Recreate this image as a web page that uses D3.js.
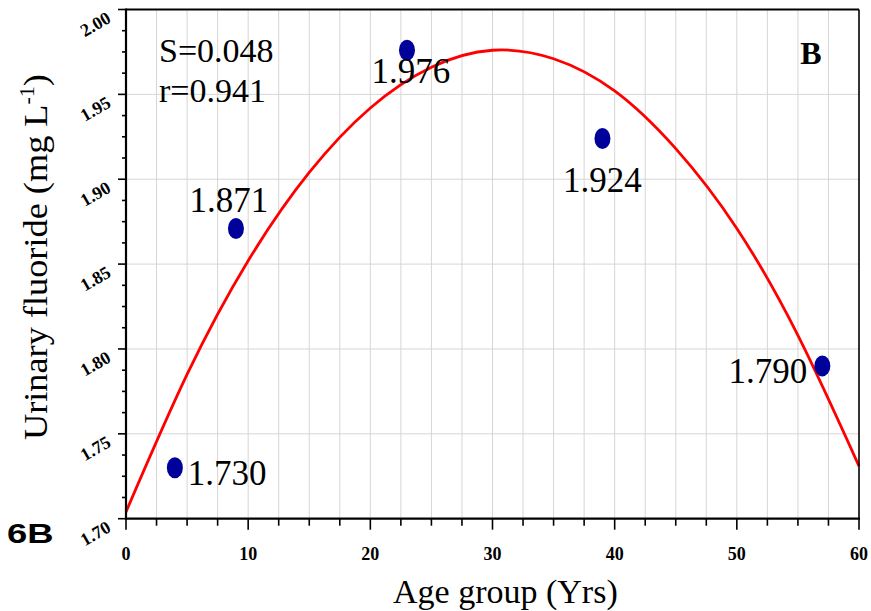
<!DOCTYPE html>
<html>
<head>
<meta charset="utf-8">
<script src="https://cdn.jsdelivr.net/npm/d3@7"></script>
<style>
  html, body { margin: 0; padding: 0; background: #fff; }
  svg { display: block; }
</style>
</head>
<body>
<svg id="chart" width="871" height="611"></svg>
<script>
// Mean urinary fluoride by age group
const ageGroups = [4, 9, 23, 39, 57];
const fluoride = [1.730, 1.871, 1.976, 1.924, 1.790];

// Quadratic fit curve, sampled along the age axis
const fitAge = [0, 5, 10, 15, 20, 25, 30, 35, 40, 45, 50, 55, 60];
const fitFluoride = [1.704, 1.785, 1.852, 1.904, 1.942, 1.966, 1.976, 1.971, 1.952, 1.918, 1.871, 1.808, 1.731];

// Axis ticks
const xTicks = [0, 10, 20, 30, 40, 50, 60];
const yTicks = [1.70, 1.75, 1.80, 1.85, 1.90, 1.95, 2.00];
const statsText = ["S=0.048", "r=0.941"];

// Label placement around each point: [dx, dy, anchor]
const labelPlacement = [
  [13, 17, "start"],
  [-7, -16, "middle"],
  [4, 33, "middle"],
  [0, 54, "middle"],
  [-15, 17, "end"]
];

const svg = d3.select("#chart");
const plotLeft = 126, plotRight = 859, plotTop = 9.5, plotBottom = 518.7;

const x = d3.scaleLinear().domain([0, 60]).range([plotLeft, plotRight]);
const y = d3.scaleLinear().domain([1.70, 2.00]).range([plotBottom, plotTop]);

const serif = "'Liberation Serif', 'Times New Roman', serif";

// Vertical grid every 2.5 years
const xMinor = d3.range(0, 60.01, 2.5);
svg.append("g").selectAll("line").data(xMinor.filter(v => v > 0 && v < 60)).join("line")
  .attr("x1", d => x(d)).attr("x2", d => x(d))
  .attr("y1", plotTop).attr("y2", plotBottom)
  .attr("stroke", "#d6d6d6").attr("stroke-width", 1);

// Horizontal grid at major y ticks
svg.append("g").selectAll("line").data(yTicks.slice(1, -1)).join("line")
  .attr("x1", plotLeft).attr("x2", plotRight)
  .attr("y1", d => y(d)).attr("y2", d => y(d))
  .attr("stroke", "#d6d6d6").attr("stroke-width", 1);

// Fit curve
const line = d3.line().x(d => x(d[0])).y(d => y(d[1])).curve(d3.curveNatural);
svg.append("path")
  .datum(fitAge.map((a, i) => [a, fitFluoride[i]]))
  .attr("d", line)
  .attr("fill", "none")
  .attr("stroke", "#ff0000")
  .attr("stroke-width", 2.8);

// Frame
svg.append("line").attr("x1", plotLeft).attr("x2", plotRight).attr("y1", plotTop).attr("y2", plotTop)
  .attr("stroke", "#000").attr("stroke-width", 2.2);
svg.append("line").attr("x1", plotRight).attr("x2", plotRight).attr("y1", plotTop).attr("y2", plotBottom)
  .attr("stroke", "#000").attr("stroke-width", 1.6);

// Bottom axis
const xAxis = svg.append("g");
xAxis.selectAll("line.tick").data(xMinor).join("line")
  .attr("x1", d => x(d)).attr("x2", d => x(d))
  .attr("y1", plotBottom).attr("y2", d => plotBottom + (d % 10 === 0 ? 11 : 7))
  .attr("stroke", "#000").attr("stroke-width", 1.6);
xAxis.append("line").attr("x1", plotLeft - 1).attr("x2", plotRight + 1).attr("y1", plotBottom).attr("y2", plotBottom)
  .attr("stroke", "#000").attr("stroke-width", 2.2);
xAxis.selectAll("text").data(xTicks).join("text")
  .attr("x", d => x(d)).attr("y", 560)
  .attr("text-anchor", "middle")
  .attr("font-family", serif).attr("font-weight", "bold").attr("font-size", 18)
  .text(d => d);

// Left axis
const yAxis = svg.append("g");
const yMinor = d3.range(0, 25).map(i => 1.70 + i * 0.0125);
yAxis.selectAll("line").data(yMinor).join("line")
  .attr("x1", (d, i) => plotLeft - (i % 4 === 0 ? 8 : 4))
  .attr("x2", plotLeft)
  .attr("y1", d => y(d)).attr("y2", d => y(d))
  .attr("stroke", "#000").attr("stroke-width", 1.6);
yAxis.append("line").attr("x1", plotLeft).attr("x2", plotLeft).attr("y1", plotTop - 1).attr("y2", plotBottom + 1)
  .attr("stroke", "#000").attr("stroke-width", 2.2);
yAxis.selectAll("text").data(yTicks).join("text")
  .attr("transform", d => `translate(112,${y(d) + 12}) rotate(-30)`)
  .attr("text-anchor", "end")
  .attr("font-family", serif).attr("font-weight", "bold").attr("font-size", 18)
  .text(d => d.toFixed(2));

// Data points
svg.append("g").selectAll("ellipse").data(ageGroups).join("ellipse")
  .attr("cx", d => x(d)).attr("cy", (d, i) => y(fluoride[i]))
  .attr("rx", 8).attr("ry", 10.5)
  .attr("fill", "#00009a");

// Point value labels
svg.append("g").selectAll("text").data(fluoride).join("text")
  .attr("x", (d, i) => x(ageGroups[i]) + labelPlacement[i][0])
  .attr("y", (d, i) => y(d) + labelPlacement[i][1])
  .attr("text-anchor", (d, i) => labelPlacement[i][2])
  .attr("font-family", serif).attr("font-size", 35)
  .text(d => d.toFixed(3));

// Fit statistics
svg.append("g").selectAll("text").data(statsText).join("text")
  .attr("x", 159).attr("y", (d, i) => 62 + i * 40)
  .attr("font-family", serif).attr("font-size", 34)
  .text(d => d);

// Panel letter
svg.append("text").attr("x", 811).attr("y", 64).attr("text-anchor", "middle")
  .attr("font-family", serif).attr("font-weight", "bold").attr("font-size", 32)
  .text("B");

svg.append("text").attr("transform", "translate(7,543) scale(1.3,1)")
  .attr("font-family", "'Liberation Sans', Arial, sans-serif").attr("font-weight", "bold").attr("font-size", 28)
  .text("6B");

// Axis titles
svg.append("text").attr("x", 393).attr("y", 603)
  .attr("font-family", serif).attr("font-size", 34)
  .text("Age group (Yrs)");

const yTitle = svg.append("text").attr("transform", "translate(47,440) rotate(-90) scale(1.1,1)")
  .attr("font-family", serif).attr("font-size", 33);
yTitle.append("tspan").text("Urinary fluoride (mg L");
yTitle.append("tspan").attr("font-size", 20).attr("dy", -13).text("-1");
yTitle.append("tspan").attr("dy", 13).text(")");
</script>
</body>
</html>
